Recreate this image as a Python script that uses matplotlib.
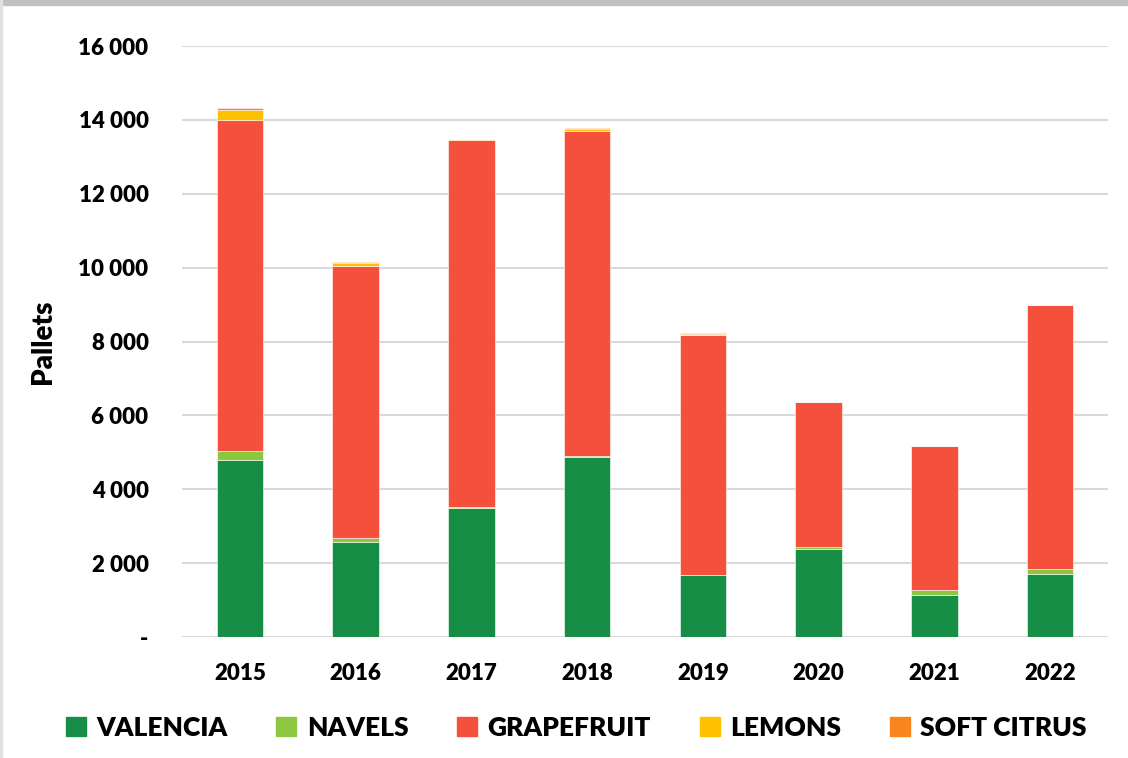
import matplotlib.pyplot as plt
import matplotlib.patches as mpatches
import numpy as np

years = ['2015', '2016', '2017', '2018', '2019', '2020', '2021', '2022']
valencia = [4800, 2560, 3490, 4870, 1680, 2370, 1130, 1710]
navels = [230, 120, 20, 30, 10, 65, 145, 130]
grapefruit = [8970, 7360, 9950, 8806, 6485, 3926, 3898, 7147]
lemons = [270, 80, 15, 55, 35, 5, 0, 0]
soft_citrus = [50, 25, 0, 15, 10, 0, 0, 0]

names = ['VALENCIA', 'NAVELS', 'GRAPEFRUIT', 'LEMONS', 'SOFT CITRUS']
colors = ['#178E45', '#8DC63F', '#F4503C', '#FFC000', '#F7861E']

plt.rcParams['font.family'] = ['Lato', 'DejaVu Sans']
plt.rcParams['font.weight'] = 'heavy'

fig = plt.figure(figsize=(11.28, 7.58), dpi=100)
ax = fig.add_axes([0.1613, 0.1596, 0.821, 0.7797])

x = np.arange(len(years))
bottom = np.zeros(len(years))
for vals, name, c in zip([valencia, navels, grapefruit, lemons, soft_citrus], names, colors):
    ax.bar(x, vals, width=0.4, bottom=bottom, color=c, label=name,
           edgecolor='white', linewidth=0.4, zorder=3)
    bottom += np.array(vals)

ax.set_xlim(-0.5, len(years) - 0.5)
ax.set_ylim(0, 16000)
ticks = np.arange(0, 16001, 2000)
ax.set_yticks(ticks)
ax.set_yticklabels(['-'] + [f'{t:,}'.replace(',', ' ') for t in ticks[1:]])
ax.set_xticks(x)
ax.set_xticklabels(years)
ax.tick_params(axis='both', length=0, labelsize=16)
ax.tick_params(axis='y', pad=24)
ax.tick_params(axis='x', pad=19)
ax.yaxis.grid(True, color='#D9D9D9', linewidth=1.5, zorder=0)
for s in ax.spines.values():
    s.set_visible(False)
ax.set_ylabel('Pallets', fontsize=20, fontweight='heavy', labelpad=16)

handles = [mpatches.Patch(color=c, label=n) for n, c in zip(names, colors)]
fig.legend(handles=handles, loc='center', bbox_to_anchor=(0.511, 0.040), ncol=5,
           frameon=False, fontsize=19, handlelength=0.75, handleheight=0.75,
           handletextpad=0.4, columnspacing=1.85)

# grey frame at top and left
fig.patches.append(mpatches.Rectangle((0, 1 - 5 / 758), 1, 5 / 758, transform=fig.transFigure,
                                      color='#C0C0C0', zorder=0))
fig.patches.append(mpatches.Rectangle((0, 0), 1.5 / 1128, 1, transform=fig.transFigure,
                                      color='#E0E0E0', zorder=0))

fig.savefig('out.png', dpi=100)
